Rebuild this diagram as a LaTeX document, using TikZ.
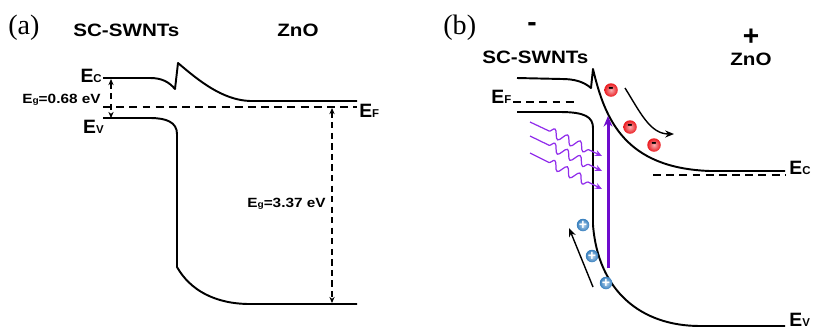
\documentclass[tikz,border=0pt]{standalone}
\usepackage{fontspec}
\setmainfont{Liberation Serif}
\newfontfamily\widesans[FakeStretch=1.15]{Liberation Sans}
\newfontfamily\plainsans{Liberation Sans}
\usetikzlibrary{arrows.meta, decorations.pathmorphing}

\definecolor{lightviolet}{RGB}{145,45,235}
\definecolor{deepviolet}{RGB}{110,10,205}
\definecolor{holeblue}{RGB}{60,140,210}
\definecolor{elecred}{RGB}{235,25,30}

\newcommand{\lvl}[1]{{\plainsans\bfseries\fontsize{11}{13}\selectfont E{\fontsize{6.5}{8}\selectfont #1}}}
\newcommand{\gaplabel}[1]{{\widesans\bfseries\fontsize{7.6}{9}\selectfont E{\fontsize{5}{6}\selectfont g}=#1 eV}}

\begin{document}
\begin{tikzpicture}[x=0.02cm, y=-0.02cm,
    band/.style={black, line width=1.1pt, line join=round},
    level/.style={black, line width=0.9pt, dash pattern=on 4.5pt off 3pt},
    gap/.style={black, line width=0.8pt, dash pattern=on 3.5pt off 2.5pt,
        {Stealth[length=3.5pt,width=3pt]}-{Stealth[length=3.5pt,width=3pt]}},
    lbl/.style={inner sep=0pt},
    tag/.style={lbl, anchor=base west, font=\fontsize{16}{18}\selectfont},
    title/.style={lbl, anchor=base west, font=\widesans\bfseries\fontsize{10.2}{12}\selectfont},
    sign/.style={lbl, font=\plainsans\bfseries\fontsize{16}{16}\selectfont},
    pump/.style={deepviolet, line width=1.7pt, -{Stealth[length=6pt,width=5pt]}},
    photon/.style={lightviolet, line width=0.7pt, decorate,
        decoration={snake, segment length=8pt, amplitude=2.5pt, pre length=12pt, post length=8pt},
        -{Stealth[length=4pt,width=3.5pt]}},
    carrier/.style={black, line width=0.8pt, -{Stealth[length=5pt,width=4pt]}},
    electron/.style={circle, inner sep=0pt, minimum size=0.27cm, shading=radial,
        inner color=elecred!35!white, outer color=elecred,
        text=black, font=\plainsans\bfseries\fontsize{9}{9}\selectfont},
    hole/.style={circle, inner sep=0pt, minimum size=0.25cm, shading=radial,
        inner color=holeblue!35!white, outer color=holeblue!90!black,
        text=white, font=\plainsans\bfseries\fontsize{8}{8}\selectfont}
    ]
    \useasboundingbox (0,0) rectangle (814,329);
    % (a) bands before contact
    \draw[band] (103,78) -- (150,78) .. controls (162,78) and (169,82) .. (175,89)
        -- (178,63) .. controls (198,80) and (222,100) .. (250,101) -- (357,101);
    \draw[band] (103,118) -- (150,118) .. controls (166,118) and (177,122) .. (177,134)
        -- (177,267) .. controls (190,290) and (215,304) .. (250,304) -- (357,304);
    \draw[level] (103,107) -- (357,107);
    % gap arrows
        \coordinate (cbA) at (111,79);
        \coordinate (vbA) at (111,118);
        \draw[gap] (cbA) -- (vbA);
        \coordinate (fZ) at (332,108);
        \coordinate (vbZ) at (332,303);
        \draw[gap] (fZ) -- (vbZ);
    % Below nodes are the labels of (a).
        \node[tag] (taga) at (8,34) {(a)};
        \node[title] (swnta) at (73,36) {SC-SWNTs};
        \node[title] (znoa) at (277,36) {ZnO};
        \node[lbl, anchor=base east] (eca) at (102,82) {\lvl{C}};
        \node[lbl, anchor=base east] (ega) at (101,103) {\gaplabel{0.68}};
        \node[lbl, anchor=base east] (eva) at (104,133) {\lvl{V}};
        \node[lbl, anchor=base west] (efa) at (359,117) {\lvl{F}};
        \node[lbl, anchor=base east] (egz) at (326,207) {\gaplabel{3.37}};

    % (b) bands after contact, under light
    \draw[band] (517,78) -- (562,79) .. controls (575,79) and (584,82) .. (591,88)
        -- (593,69) .. controls (605,120) and (625,168) .. (710,171) -- (785,171);
    \draw[band] (517,112) -- (560,112) .. controls (585,112) and (593,117) .. (593,128)
        -- (593,225) .. controls (598,290) and (640,326) .. (700,326) -- (785,326);
    \draw[level] (513,102) -- (577,102);
    \draw[level] (653,175) -- (785,175);
    % excitation
        \coordinate (pumpS) at (608,268);
        \coordinate (pumpE) at (608,116);
        \draw[pump] (pumpS) -- (pumpE);
        \foreach \i/\ya/\yb in {1/122/156, 2/136/171, 3/153/189} {
            \coordinate (ph\i s) at (530,\ya);
            \coordinate (ph\i e) at (602,\yb);
            \draw[photon] (ph\i s) -- (ph\i e);
        }
    % carriers and their drift
        \coordinate (eflowS) at (625,88);
        \coordinate (eflowE) at (674,134);
        \draw[carrier] (eflowS) .. controls (640,112) and (650,134) .. (eflowE);
        \coordinate (hflowS) at (593,287);
        \coordinate (hflowE) at (569,228);
        \draw[carrier] (hflowS) -- (hflowE);
        \foreach \n/\px/\py in {1/611/90, 2/630/127, 3/654/145}
            \node[electron] (e\n) at (\px,\py) {-};
        \foreach \n/\px/\py in {1/583/225, 2/592/256, 3/606/283}
            \node[hole] (h\n) at (\px,\py) {+};
    % Below nodes are the labels of (b).
        \node[tag] (tagb) at (443,34) {(b)};
        \node[sign] (minus) at (532,27) {-};
        \node[title] (swntb) at (482,63) {SC-SWNTs};
        \node[sign] (plus) at (751,37) {+};
        \node[title] (znob) at (730,65) {ZnO};
        \node[lbl, anchor=base west] (efb) at (491,103) {\lvl{F}};
        \node[lbl, anchor=base west] (ecb) at (789,174) {\lvl{C}};
        \node[lbl, anchor=base west] (evb) at (789,326.5) {\lvl{V}};
\end{tikzpicture}
\end{document}
